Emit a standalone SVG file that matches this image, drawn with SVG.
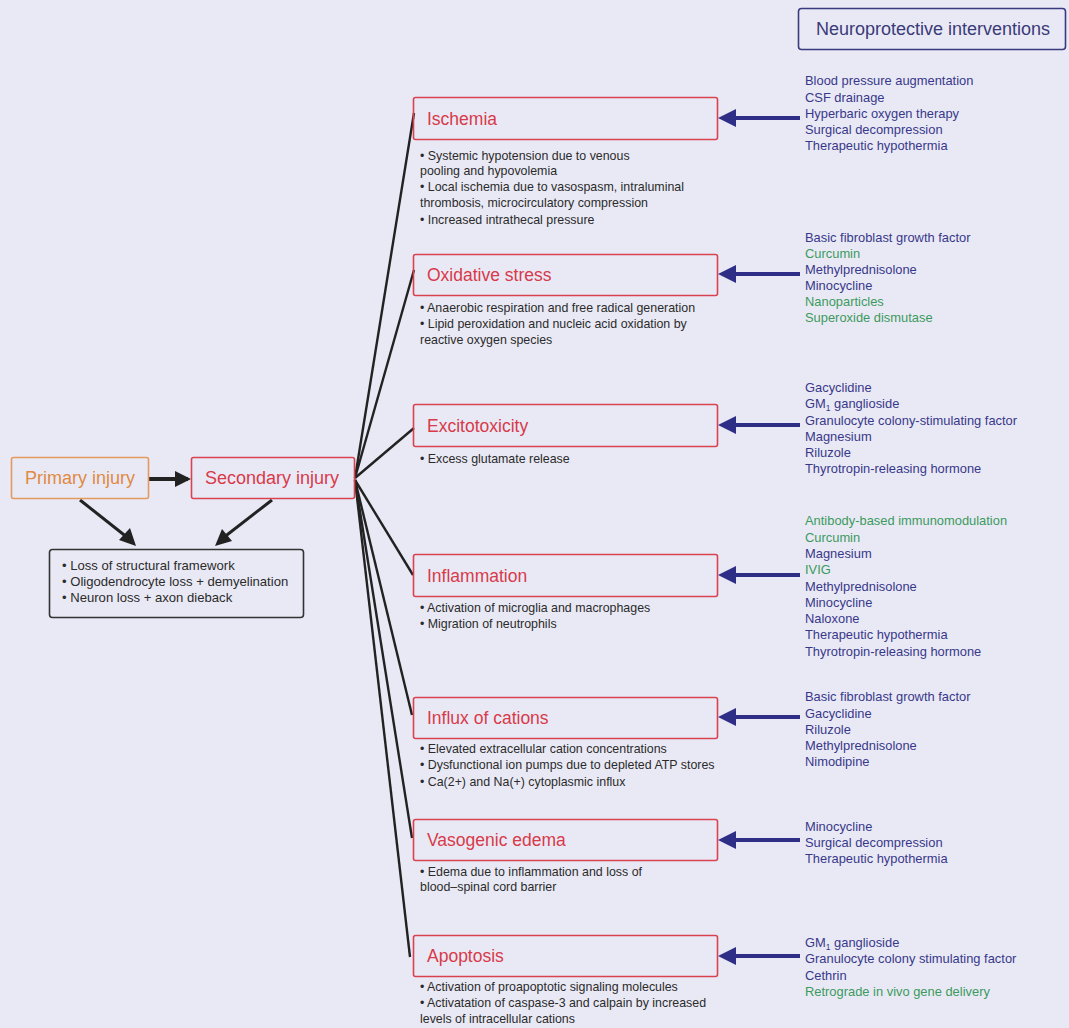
<svg xmlns="http://www.w3.org/2000/svg" width="1069" height="1028" viewBox="0 0 1069 1028">
<defs>
<style>
text{font-family:"Liberation Sans",Arial,sans-serif}
.node{fill:none;stroke:#d9434f;stroke-width:1.6}
.lbl{font-size:17.5px;fill:#d83a4a}
.bul{font-size:12.4px;fill:#2b2b2b}
.iv{font-size:12.9px;fill:#38388a}
.g{fill:#3c9a5e}
.fan{stroke:#222;stroke-width:2.4;fill:none}
.blue{stroke:#2e2e86;stroke-width:4;fill:none}
</style>
</defs>
<rect width="1069" height="1028" fill="#e9e9f5"/>

<g id="connectors">
<path class="fan" d="M355,478 L414,113"/>
<path class="fan" d="M355,478 L414,270"/>
<path class="fan" d="M355,478 L414,428"/>
<path class="fan" d="M355,480 L413,575"/>
<path class="fan" d="M355,480 L412,715"/>
<path class="fan" d="M355,480 L412,838"/>
<path class="fan" d="M355,480 L410,957"/>
<line x1="148" y1="479" x2="188" y2="479" stroke="#222" stroke-width="4"/>
<path d="M175,471 L191,479 L175,487 z" fill="#222"/>
<line x1="80" y1="500" x2="128" y2="538" stroke="#222" stroke-width="3"/>
<path d="M136,546 L119,540 L130,528 z" fill="#222"/>
<line x1="272" y1="500" x2="223" y2="538" stroke="#222" stroke-width="3"/>
<path d="M215,546 L222,529 L232,541 z" fill="#222"/>
<g id="blue-arrows">
<line class="blue" x1="800" y1="118" x2="732" y2="118"/><path d="M718,118 L736,109 L736,127 z" fill="#2e2e86"/>
<line class="blue" x1="800" y1="274" x2="732" y2="274"/><path d="M718,274 L736,265 L736,283 z" fill="#2e2e86"/>
<line class="blue" x1="800" y1="425" x2="732" y2="425"/><path d="M718,425 L736,416 L736,434 z" fill="#2e2e86"/>
<line class="blue" x1="800" y1="575" x2="732" y2="575"/><path d="M718,575 L736,566 L736,584 z" fill="#2e2e86"/>
<line class="blue" x1="800" y1="717" x2="732" y2="717"/><path d="M718,717 L736,708 L736,726 z" fill="#2e2e86"/>
<line class="blue" x1="800" y1="840" x2="732" y2="840"/><path d="M718,840 L736,831 L736,849 z" fill="#2e2e86"/>
<line class="blue" x1="800" y1="956" x2="732" y2="956"/><path d="M718,956 L736,947 L736,965 z" fill="#2e2e86"/>
</g>
</g>

<g id="header">
<rect x="798.5" y="8.5" width="267" height="41" rx="3" fill="none" stroke="#3a3a80" stroke-width="1.6"/>
<text x="933" y="35" text-anchor="middle" style="font-size:18px;fill:#3a3a78">Neuroprotective interventions</text>
</g>

<g id="primary">
<rect x="11.5" y="457.5" width="137" height="41" rx="2" fill="none" stroke="#e39a5c" stroke-width="1.6"/>
<text x="80" y="484" text-anchor="middle" style="font-size:18px;fill:#e08a44">Primary injury</text>
</g>
<g id="secondary">
<rect x="191.5" y="457.5" width="163" height="41" rx="2" class="node"/>
<text x="272" y="484" text-anchor="middle" style="font-size:18px;fill:#d83a4a">Secondary injury</text>
</g>
<g id="outcome">
<rect x="49.5" y="549.5" width="254" height="68" rx="3" fill="none" stroke="#333" stroke-width="1.6"/>
<text class="bul" style="font-size:13.1px" x="62" y="570">• Loss of structural framework</text>
<text class="bul" style="font-size:13.1px" x="62" y="586">• Oligodendrocyte loss + demyelination</text>
<text class="bul" style="font-size:13.1px" x="62" y="602">• Neuron loss + axon dieback</text>
</g>

<g id="ischemia">
<rect x="413.5" y="97.5" width="304" height="42" rx="2" class="node"/>
<text class="lbl" x="427" y="125">Ischemia</text>
<text class="bul" x="420" y="160">• Systemic hypotension due to venous</text>
<text class="bul" x="420" y="175">pooling and hypovolemia</text>
<text class="bul" x="420" y="191">• Local ischemia due to vasospasm, intraluminal</text>
<text class="bul" x="420" y="207">thrombosis, microcirculatory compression</text>
<text class="bul" x="420" y="224">• Increased intrathecal pressure</text>
<text class="iv" x="805" y="85">Blood pressure augmentation</text>
<text class="iv" x="805" y="102">CSF drainage</text>
<text class="iv" x="805" y="118">Hyperbaric oxygen therapy</text>
<text class="iv" x="805" y="134">Surgical decompression</text>
<text class="iv" x="805" y="150">Therapeutic hypothermia</text>
</g>

<g id="oxidative">
<rect x="413.5" y="254.5" width="304" height="41" rx="2" class="node"/>
<text class="lbl" x="427" y="281">Oxidative stress</text>
<text class="bul" x="420" y="312">• Anaerobic respiration and free radical generation</text>
<text class="bul" x="420" y="328">• Lipid peroxidation and nucleic acid oxidation by</text>
<text class="bul" x="420" y="344">reactive oxygen species</text>
<text class="iv" x="805" y="242">Basic fibroblast growth factor</text>
<text class="iv g" x="805" y="258">Curcumin</text>
<text class="iv" x="805" y="274">Methylprednisolone</text>
<text class="iv" x="805" y="290">Minocycline</text>
<text class="iv g" x="805" y="306">Nanoparticles</text>
<text class="iv g" x="805" y="322">Superoxide dismutase</text>
</g>

<g id="excitotoxicity">
<rect x="413.5" y="404.5" width="304" height="42" rx="2" class="node"/>
<text class="lbl" x="427" y="432">Excitotoxicity</text>
<text class="bul" x="420" y="463">• Excess glutamate release</text>
<text class="iv" x="805" y="392">Gacyclidine</text>
<text class="iv" x="805" y="408">GM<tspan style="font-size:8.5px" dy="3">1</tspan><tspan dy="-3"> ganglioside</tspan></text>
<text class="iv" x="805" y="425">Granulocyte colony-stimulating factor</text>
<text class="iv" x="805" y="441">Magnesium</text>
<text class="iv" x="805" y="457">Riluzole</text>
<text class="iv" x="805" y="473">Thyrotropin-releasing hormone</text>
</g>

<g id="inflammation">
<rect x="413.5" y="554.5" width="304" height="42" rx="2" class="node"/>
<text class="lbl" x="427" y="582">Inflammation</text>
<text class="bul" x="420" y="612">• Activation of microglia and macrophages</text>
<text class="bul" x="420" y="628">• Migration of neutrophils</text>
<text class="iv g" x="805" y="525">Antibody-based immunomodulation</text>
<text class="iv g" x="805" y="542">Curcumin</text>
<text class="iv" x="805" y="558">Magnesium</text>
<text class="iv g" x="805" y="574">IVIG</text>
<text class="iv" x="805" y="591">Methylprednisolone</text>
<text class="iv" x="805" y="607">Minocycline</text>
<text class="iv" x="805" y="623">Naloxone</text>
<text class="iv" x="805" y="639">Therapeutic hypothermia</text>
<text class="iv" x="805" y="656">Thyrotropin-releasing hormone</text>
</g>

<g id="influx">
<rect x="413.5" y="697.5" width="304" height="41" rx="2" class="node"/>
<text class="lbl" x="427" y="724">Influx of cations</text>
<text class="bul" x="420" y="753">• Elevated extracellular cation concentrations</text>
<text class="bul" x="420" y="769">• Dysfunctional ion pumps due to depleted ATP stores</text>
<text class="bul" x="420" y="786">• Ca(2+) and Na(+) cytoplasmic influx</text>
<text class="iv" x="805" y="701">Basic fibroblast growth factor</text>
<text class="iv" x="805" y="718">Gacyclidine</text>
<text class="iv" x="805" y="734">Riluzole</text>
<text class="iv" x="805" y="750">Methylprednisolone</text>
<text class="iv" x="805" y="766">Nimodipine</text>
</g>

<g id="vasogenic">
<rect x="413.5" y="819.5" width="304" height="41" rx="2" class="node"/>
<text class="lbl" x="427" y="846">Vasogenic edema</text>
<text class="bul" x="420" y="876">• Edema due to inflammation and loss of</text>
<text class="bul" x="420" y="891">blood–spinal cord barrier</text>
<text class="iv" x="805" y="831">Minocycline</text>
<text class="iv" x="805" y="847">Surgical decompression</text>
<text class="iv" x="805" y="863">Therapeutic hypothermia</text>
</g>

<g id="apoptosis">
<rect x="413.5" y="935.5" width="304" height="41" rx="2" class="node"/>
<text class="lbl" x="427" y="962">Apoptosis</text>
<text class="bul" x="420" y="991">• Activation of proapoptotic signaling molecules</text>
<text class="bul" x="420" y="1007">• Activatation of caspase-3 and calpain by increased</text>
<text class="bul" x="420" y="1023">levels of intracellular cations</text>
<text class="iv" x="805" y="947">GM<tspan style="font-size:8.5px" dy="3">1</tspan><tspan dy="-3"> ganglioside</tspan></text>
<text class="iv" x="805" y="963">Granulocyte colony stimulating factor</text>
<text class="iv" x="805" y="980">Cethrin</text>
<text class="iv g" x="805" y="996">Retrograde in vivo gene delivery</text>
</g>
</svg>
